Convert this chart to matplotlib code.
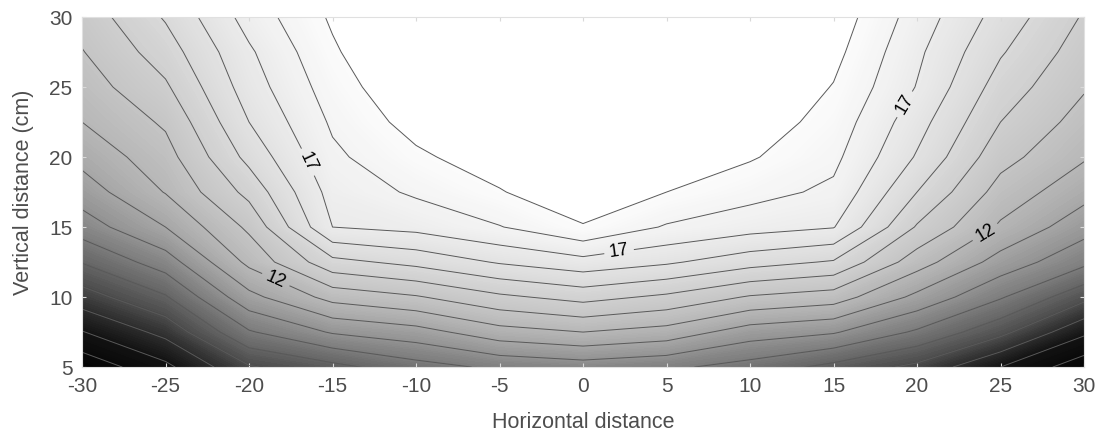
import numpy as np
import matplotlib
matplotlib.use('Agg')
import matplotlib.pyplot as plt
from matplotlib.colors import LinearSegmentedColormap

# grid: columns = horizontal distance, rows = vertical distance
x_vals = [-30, -25, -20, -15, -10, -5, 0, 5, 10, 15, 20, 25, 30]
y_vals = [5, 7.5, 10, 12.5, 15, 17.5, 20, 22.5, 25, 27.5, 30]

z_y05 = [3.3, 4.75, 6.9, 7.7, 8.6, 9.2, 9.5, 9.2, 8.6, 7.7, 6.75, 5.0, 3.4]
z_y07 = [4.95, 6.3, 8.9, 10.1, 10.6, 11.6, 12.0, 11.6, 10.5, 10.1, 8.85, 7.3, 5.2]
z_y10 = [6.55, 7.9, 10.7, 12.35, 12.9, 13.8, 14.35, 13.8, 12.9, 12.5, 10.75, 9.1, 7.3]
z_y12 = [8.05, 9.5, 12.25, 14.7, 15.3, 16.1, 16.65, 16.15, 15.4, 14.9, 12.45, 10.6, 9.25]
z_y15 = [9.5, 11.0, 13.2, 17.0, 17.3, 17.95, 18.9, 17.9, 17.4, 17.05, 13.9, 11.85, 10.4]
z_y17 = [10.5, 12.05, 14.3, 17.4, 18.15, 18.92, 19.9, 19.0, 18.35, 17.8, 15.0, 12.6, 11.35]
z_y20 = [11.3, 12.6, 15.3, 17.8, 18.8, 19.6, 20.6, 19.6, 19.1, 18.25, 15.9, 13.35, 12.1]
z_y22 = [12.0, 13.15, 16.0, 18.15, 19.4, 20.1, 21.1, 20.1, 19.6, 18.6, 16.4, 14.0, 12.6]
z_y25 = [12.5, 13.85, 16.5, 18.5, 19.9, 20.6, 21.5, 20.5, 20.0, 18.95, 16.95, 14.55, 13.1]
z_y27 = [12.95, 14.5, 16.85, 18.85, 20.3, 21.0, 21.9, 20.9, 20.4, 19.3, 17.2, 15.1, 13.5]
z_y30 = [13.4, 15.1, 17.4, 19.15, 20.7, 21.4, 22.2, 21.3, 20.8, 19.6, 17.55, 15.6, 13.9]

line_levels = list(range(4, 20))
labelled = [12, 17]
label_spots = [(-17.1, 19.3), (2.2, 12.9), (19.5, 23.6), (-18.6, 10.7), (24.1, 14.6)]

Z = np.array([z_y05, z_y07, z_y10, z_y12, z_y15, z_y17, z_y20, z_y22, z_y25, z_y27, z_y30])
X, Y = np.meshgrid(x_vals, y_vals)

# grey ramp, white above the top line
nodes = [(3, 0.0), (5, 0.07), (6, 0.17), (7, 0.29), (8, 0.39), (9, 0.48), (10, 0.57),
         (11, 0.65), (12, 0.715), (13, 0.77), (14, 0.81), (15, 0.85), (16, 0.885),
         (17, 0.92), (18, 0.955), (19, 0.985)]
vmin, vmax = 3, 19
cmap = LinearSegmentedColormap.from_list(
    'greys', [((v - vmin) / (vmax - vmin), (g, g, g)) for v, g in nodes])
cmap.set_over('white')

plt.rcParams['font.family'] = ['Liberation Sans', 'DejaVu Sans']
plt.rcParams['axes.unicode_minus'] = False

fig = plt.figure(figsize=(11.04, 4.37), dpi=100)
ax = fig.add_axes([0.0743, 0.160, 0.9076, 0.801])

ax.contourf(X, Y, Z, levels=np.linspace(vmin, vmax, 161), cmap=cmap,
            vmin=vmin, vmax=vmax, extend='max')
plain = [v for v in line_levels if v not in labelled]
ax.contour(X, Y, Z, levels=plain, colors='0.35', linewidths=0.7)
cs = ax.contour(X, Y, Z, levels=labelled, colors='0.35', linewidths=0.7)
ax.clabel(cs, manual=label_spots, fmt='%d', inline=True,
          fontsize=13, colors='black')

ax.set_xlim(-30, 30)
ax.set_ylim(5, 30)
ax.set_xticks(range(-30, 31, 5))
ax.set_yticks(range(5, 31, 5))
ax.tick_params(labelsize=15, labelcolor='0.3', color='0.85', length=3,
               direction='in', pad=7, top=True, right=True)
for s in ax.spines.values():
    s.set_color('0.88')
    s.set_linewidth(0.8)

ax.set_xlabel('Horizontal distance', fontsize=15.5, color='0.3', labelpad=12)
ax.set_ylabel('Vertical distance (cm)', fontsize=15.5, color='0.3', labelpad=11)

plt.savefig('out.png', dpi=100)
